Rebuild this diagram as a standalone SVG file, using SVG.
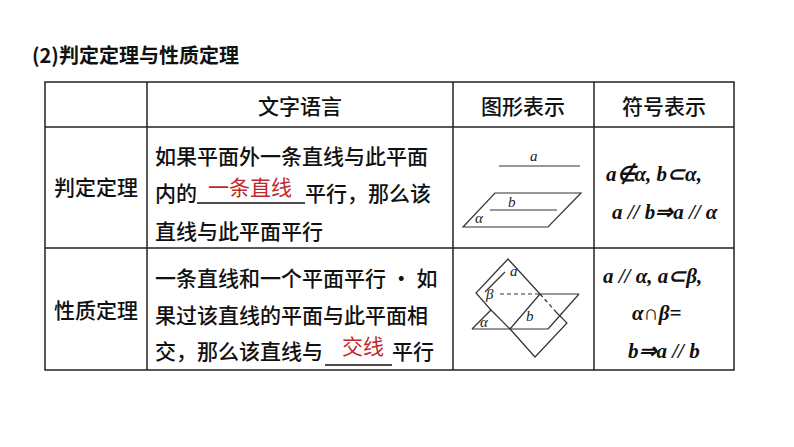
<svg xmlns="http://www.w3.org/2000/svg" width="794" height="447" viewBox="0 0 794 447">
<style>
.cn{font-family:"Noto Sans CJK SC","Noto Sans",sans-serif;font-size:21px;font-weight:500;fill:#111}
.red{font-family:"Noto Sans CJK SC",sans-serif;font-size:21px;fill:#c0282a}
.sym{font-family:"Liberation Serif",serif;font-style:italic;font-weight:bold;font-size:21px;fill:#111}
.fig{font-family:"Liberation Serif",serif;font-style:italic;font-size:15px;fill:#222}
.g{stroke:#222;stroke-width:1.5;fill:none}
.f{stroke:#333;stroke-width:1.2;fill:none}
</style>
<rect width="794" height="447" fill="#fff"/>
<text x="32" y="63" class="cn" style="font-weight:bold;font-size:20px">(2)判定定理与性质定理</text>
<g id="grid">
<rect x="45" y="82" width="689" height="288" class="g"/>
<line x1="147" y1="82" x2="147" y2="370" class="g"/>
<line x1="453" y1="82" x2="453" y2="370" class="g"/>
<line x1="594" y1="82" x2="594" y2="370" class="g"/>
<line x1="45" y1="127" x2="734" y2="127" class="g"/>
<line x1="45" y1="248" x2="734" y2="248" class="g"/>
</g>
<g id="header">
<text x="300" y="114" class="cn" text-anchor="middle">文字语言</text>
<text x="523" y="114" class="cn" text-anchor="middle">图形表示</text>
<text x="664" y="114" class="cn" text-anchor="middle">符号表示</text>
</g>
<g id="row1">
<text x="96" y="195" class="cn" text-anchor="middle">判定定理</text>
<text x="155" y="164" class="cn">如果平面外一条直线与此平面</text>
<text x="155" y="201" class="cn">内的</text>
<line x1="197" y1="203" x2="305" y2="203" stroke="#111" stroke-width="1.3"/>
<text x="208" y="195" class="red">一条直线</text>
<text x="305" y="201" class="cn">平行，那么该</text>
<text x="155" y="239" class="cn">直线与此平面平行</text>
<text x="606" y="181" class="sym">a∉α,  b⊂α,</text>
<text x="612" y="219" class="sym">a // b⇒a // α</text>
</g>
<g id="fig1">
<line x1="499" y1="166" x2="580" y2="166" class="f"/>
<text x="530" y="161" class="fig">a</text>
<polygon points="495,193 581,193 548,227 463,227" class="f"/>
<line x1="490" y1="210" x2="557" y2="210" class="f"/>
<text x="508" y="207" class="fig">b</text>
<text x="475" y="223" class="fig">α</text>
</g>
<g id="row2">
<text x="96" y="318" class="cn" text-anchor="middle">性质定理</text>
<text x="155" y="286" class="cn">一条直线和一个平面平行 · 如</text>
<text x="155" y="323" class="cn">果过该直线的平面与此平面相</text>
<text x="155" y="359" class="cn">交，那么该直线与</text>
<line x1="325" y1="365" x2="392" y2="365" stroke="#111" stroke-width="1.3"/>
<text x="342" y="354" class="red">交线</text>
<text x="392" y="359" class="cn">平行</text>
<text x="603" y="283" class="sym">a // α,  a⊂β,</text>
<text x="632" y="320" class="sym">α∩β=</text>
<text x="628" y="358" class="sym">b⇒a // b</text>
</g>
<g id="fig2">
<polyline points="540,294 508,259 476,293 491,310" class="f"/>
<line x1="540" y1="294" x2="579" y2="294" class="f"/>
<line x1="540" y1="294" x2="556" y2="312" class="f" stroke-dasharray="4,3"/>
<polyline points="556,312 567,323 535,357 510,329" class="f"/>
<line x1="579" y1="294" x2="548" y2="329" class="f"/>
<line x1="548" y1="329" x2="472" y2="329" class="f"/>
<line x1="472" y1="329" x2="491" y2="310" class="f"/>
<line x1="491" y1="310" x2="510" y2="329" class="f"/>
<line x1="500" y1="294" x2="540" y2="294" class="f" stroke-dasharray="4,3"/>
<line x1="540" y1="294" x2="510" y2="329" class="f"/>
<line x1="485" y1="292" x2="505" y2="272" class="f"/>
<text x="510" y="276" class="fig">a</text>
<text x="486" y="299" class="fig">β</text>
<text x="526" y="321" class="fig">b</text>
<text x="480" y="327" class="fig">α</text>
</g>
</svg>
